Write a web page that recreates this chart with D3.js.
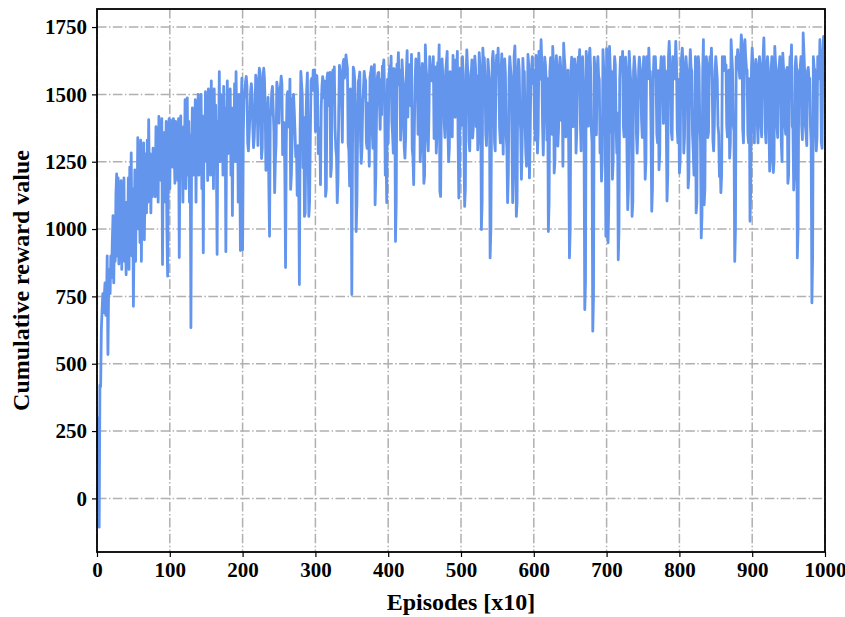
<!DOCTYPE html>
<html>
<head>
<meta charset="utf-8">
<script src="https://cdn.jsdelivr.net/npm/d3@7/dist/d3.min.js"></script>
<style>
html,body{margin:0;padding:0;background:#fff;}
svg{display:block;}
text{font-family:"Liberation Serif","Times New Roman",serif;font-weight:bold;fill:#000;}
</style>
</head>
<body>
<svg id="chart" width="845" height="617"></svg>
<script>
// ---- data ----
const xTicks = [0,100,200,300,400,500,600,700,800,900,1000];
const yTicks = [0,250,500,750,1000,1250,1500,1750];
const xLabel = "Episodes [x10]";
const yLabel = "Cumulative reward value";
const rewards = [
-20,150,300,-107,420,415,630,700,760,690,750,800,680,720,900,534,780,850,760,900,
820,950,1050,800,1000,880,1130,1205,900,1190,870,1100,960,1180,850,1040,920,1190,880,1010,
830,1100,900,1190,850,1230,960,1283,900,1150,713,1000,1220,880,1150,1050,1339,1000,1300,950,
1330,880,1250,1000,1320,960,1150,1280,1060,1330,1100,1406,1150,1280,1060,1250,1120,1300,1150,1270,
1120,1380,1200,1300,1100,1418,1250,1350,1180,1410,868,1300,1200,1360,1100,1400,1000,825,1280,1410,
1150,1405,1280,1380,1230,1410,1300,1170,1400,1250,1350,1180,1410,894,1300,1420,1200,1340,1100,1380,
1250,1480,1150,1320,1487,1200,1400,1100,1350,634,1300,1450,1200,1390,1250,1480,1100,1420,1300,1500,
1200,1450,1320,1500,1150,1420,912,1380,1250,1510,1300,1460,1180,1520,1350,1420,1200,1550,1300,1480,
1150,1520,1350,1460,1250,906,1400,1300,1584,1250,1500,1350,1450,1200,1530,1300,1450,916,1350,1550,
1280,1480,1350,1520,1200,1450,1050,1400,1300,1540,1250,1584,1350,1480,1100,1500,1300,920,1450,1560,
923,1360,1480,1510,1545,1567,1530,1320,1290,1350,1420,1512,1540,1500,1380,1302,1340,1430,1571,1540,
1475,1310,1548,1597,1580,1420,1262,1300,1563,1597,1560,1462,1218,1260,1374,1489,1168,973,1415,1440,
1508,1530,1447,1362,1135,1250,1318,1545,1520,1480,1393,1512,1530,1568,1540,1276,1300,1395,1215,857,
1318,1496,1510,1442,1378,1557,1147,1200,1326,1485,1500,1437,1360,1268,1300,1125,1310,1216,794,1365,
1585,1540,1496,1228,1415,1047,1060,1400,1512,1580,1270,1047,1100,1335,1552,1560,1515,1590,1540,1591,
1362,1548,1570,1512,1280,1300,1376,1165,1450,1530,1566,1540,1487,1549,1121,1150,1563,1580,1507,1458,
1582,1195,1230,1558,1590,1506,1602,1376,1300,1270,1098,1180,1425,1608,1590,1547,1470,1322,1615,1630,
1560,1600,1647,1620,1596,1318,1290,1160,1520,1400,757,1300,1601,1590,1556,1425,991,1100,1366,1548,
1560,1583,1327,1244,1300,1466,1520,1585,1560,1552,1322,1300,1467,1378,1233,1563,1580,1603,1366,1300,
1462,1610,1090,1200,1432,1562,1580,1581,1468,1370,1556,1424,1605,1600,1628,1512,1200,1300,1098,1556,
1318,1548,1606,1572,1642,1398,1352,1282,1596,1560,954,1100,1612,1580,1655,1534,1590,1330,1386,1628,
1570,1538,1305,1263,1342,1578,1662,1416,1584,1610,1520,1457,1648,1296,1268,1165,1380,1558,1632,1590,
1574,1352,1653,1590,1250,1318,1568,1615,1380,1170,1200,1684,1600,1567,1335,1290,1426,1640,1580,1606,
1550,1592,1640,1336,1395,1602,1282,1350,1618,1576,1684,1140,1121,1436,1632,1570,1548,1390,1340,1587,
1620,1660,1372,1250,1300,1584,1560,1406,1342,1645,1590,1540,1415,1628,1570,1660,1338,1115,1200,1598,
1560,1385,1640,1580,1332,1084,1150,1560,1665,1600,1572,1326,1290,1440,1574,1628,1338,1380,1585,1642,
1600,1380,1570,1294,1340,1655,1610,1548,998,1100,1672,1620,1636,1560,1352,1310,1445,1630,1590,1550,
893,1000,1416,1628,1660,1600,1325,1290,1582,1646,1590,1672,1556,1375,1320,1580,1650,1406,1278,1578,
1632,1580,1350,1300,1098,1200,1558,1640,1600,1566,1328,1098,1200,1642,1680,1570,1047,1100,1555,1630,
1590,1412,1366,1185,1320,1634,1562,1585,1386,1284,1233,1420,1648,1610,1190,1340,1576,1600,1640,1540,
1590,1386,1330,1645,1572,1282,1360,1660,1556,1584,1703,1620,1392,1275,1426,1638,1610,1550,1330,1558,
991,1100,1584,1636,1600,1352,1678,1610,1208,1250,1580,1644,1590,1308,1370,1585,1638,1600,1402,1552,
1233,1690,1635,1600,1342,1580,1548,1590,1280,893,1000,1584,1638,1600,1380,1556,1632,1600,1282,1360,
1582,1638,1600,1666,1390,1290,1582,1640,1552,1346,701,800,1660,1600,1586,1382,1638,1672,1600,1372,
1320,621,750,1638,1600,1552,1350,1586,1640,1570,1554,1282,1340,1178,1250,1666,1600,1586,1400,973,
1670,1600,949,1100,1678,1600,1360,1584,1185,1250,1554,1640,1610,1392,1282,1430,886,1000,1555,1638,
1600,1586,1660,1382,1342,1556,1638,1600,1282,1072,1150,1660,1600,1558,1370,1047,1100,1586,1640,1600,
1558,1352,1282,1370,1588,1638,1600,1560,1402,1340,1586,1640,1384,1185,1250,1640,1600,1558,1672,1580,
1586,1372,1066,1150,1558,1640,1600,1640,1556,1352,1320,1588,1220,1280,1586,1640,1600,1558,1392,1640,
1560,1588,1384,1104,1200,1640,1697,1620,1588,1360,1332,1640,1600,1558,1586,1697,1620,1372,1320,1556,
1208,1250,1586,1640,1672,1600,1282,1340,1588,1640,1600,1558,1153,1200,1586,1666,1600,1586,1352,1290,
1200,1250,1640,1060,1100,1588,1640,1600,1392,1320,967,1050,1586,1703,1090,1150,1588,1640,1600,1340,
1360,1588,1640,1600,1672,1558,1332,1290,1390,1586,1640,1600,1558,1384,1352,1195,1250,1135,1200,1640,
1600,1588,1640,1600,1610,1384,1342,1558,1590,1263,1320,1703,1640,1588,1384,1362,880,1000,1640,1600,
1666,1600,1588,1560,1640,1721,1690,1372,1320,1558,1703,1640,1600,1588,1352,1320,1558,1029,1150,1600,
1672,1600,1384,1320,1588,1630,1600,1392,1320,1588,1640,1600,1384,1342,1588,1640,1710,1600,1362,1320,
1588,1640,1600,1384,1215,1250,1588,1640,1600,1210,1250,1678,1620,1588,1384,1340,1558,1600,1640,1588,
1320,1250,1653,1600,1558,1384,1352,1588,1600,1170,1200,1558,1640,1600,1684,1384,1372,1145,1200,1600,
1640,1600,893,1000,1560,1588,1600,1640,1384,1332,1728,1660,1588,1384,1352,1310,1588,1600,1558,1560,
1384,1320,726,900,1640,1600,1590,1384,1290,1338,1640,1600,1558,1703,1610,1320,1300,1640,1715,1710
];
const episodes = rewards.map((_, i) => i);

// ---- layout ----
const L = 97, R = 825, T = 9, B = 552;
const svg = d3.select("#chart");
const x = d3.scaleLinear().domain([0, 1000]).range([L, R]);
const y = d3.scaleLinear().domain([-199, 1817]).range([B, T]);

const gridColor = "#b0b0b0";
const dash = "9.6,2.4,1.5,2.4";

// grid
const g = svg.append("g");
g.selectAll("line.gx").data(xTicks).join("line")
  .attr("x1", d => x(d)).attr("x2", d => x(d)).attr("y1", T).attr("y2", B)
  .attr("stroke", gridColor).attr("stroke-width", 1.5).attr("stroke-dasharray", dash);
g.selectAll("line.gy").data(yTicks).join("line")
  .attr("x1", L).attr("x2", R).attr("y1", d => y(d)).attr("y2", d => y(d))
  .attr("stroke", gridColor).attr("stroke-width", 1.5).attr("stroke-dasharray", dash);

// data line
svg.append("defs").append("clipPath").attr("id", "clip")
  .append("rect").attr("x", L).attr("y", T).attr("width", R - L).attr("height", B - T);
const line = d3.line().x((d, i) => x(episodes[i])).y(d => y(d));
svg.append("path").datum(rewards)
  .attr("clip-path", "url(#clip)")
  .attr("d", line).attr("fill", "none")
  .attr("stroke", "#6495ED").attr("stroke-width", 2.8)
  .attr("stroke-linejoin", "round").attr("stroke-linecap", "square");

// axes
const xAxis = d3.axisBottom(x).tickValues(xTicks).tickSize(5).tickPadding(5).tickFormat(d3.format("d"));
const yAxis = d3.axisLeft(y).tickValues(yTicks).tickSize(5).tickPadding(5).tickFormat(d3.format("d"));
const gx = svg.append("g").attr("transform", `translate(0,${B})`).call(xAxis);
const gy = svg.append("g").attr("transform", `translate(${L},0)`).call(yAxis);
[gx, gy].forEach(a => {
  a.select(".domain").remove();
  a.selectAll(".tick line").attr("stroke", "#000").attr("stroke-width", 1.2);
  a.selectAll(".tick text").style("font-size", "21px").style("font-family", "'Liberation Serif', serif").style("font-weight", "bold");
});

// frame
svg.append("rect").attr("x", L).attr("y", T).attr("width", R - L).attr("height", B - T)
  .attr("fill", "none").attr("stroke", "#000").attr("stroke-width", 1.8);

// labels
svg.append("text").attr("x", (L + R) / 2).attr("y", 610).attr("text-anchor", "middle")
  .style("font-size", "24px").text(xLabel);
svg.append("text").attr("transform", `translate(29,${(T + B) / 2}) rotate(-90)`)
  .attr("text-anchor", "middle").style("font-size", "24px").text(yLabel);
</script>
</body>
</html>
